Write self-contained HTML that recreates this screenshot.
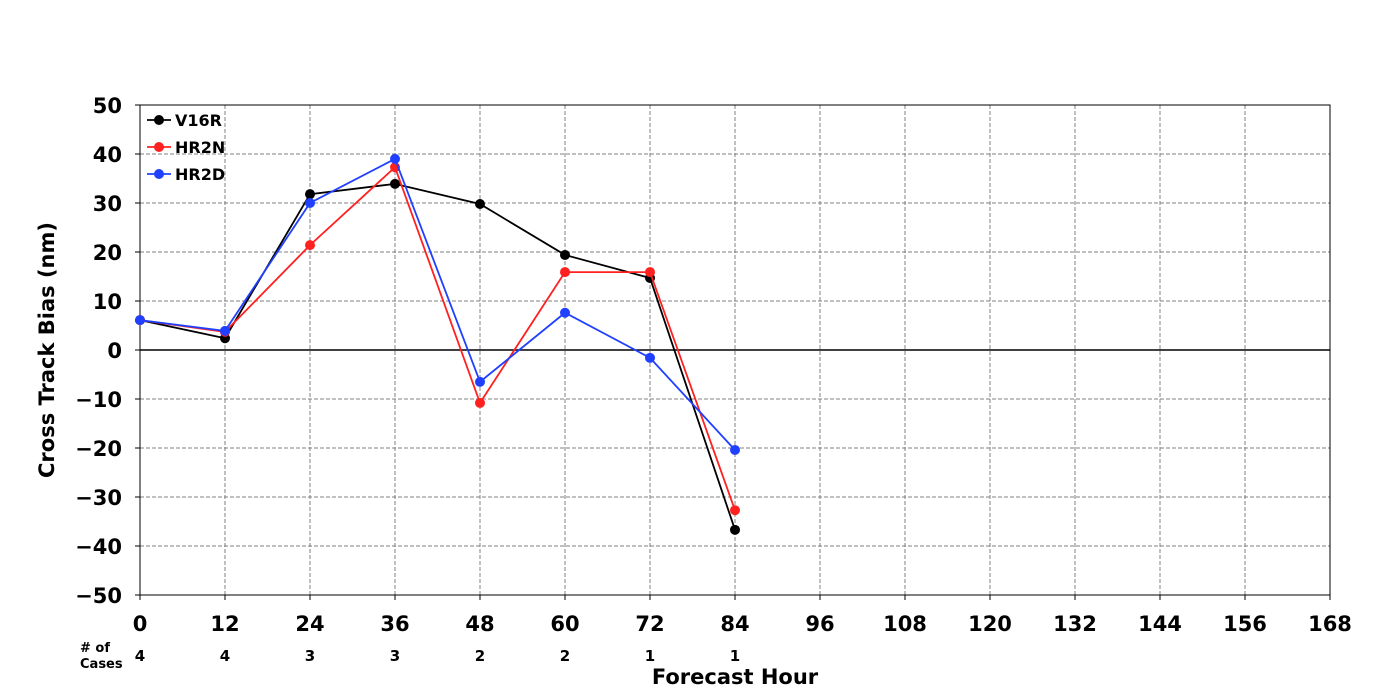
<!DOCTYPE html>
<html><head><meta charset="utf-8">
<style>
html,body{margin:0;padding:0;background:#fff;}
svg{display:block;font-family:"DejaVu Sans","Liberation Sans",sans-serif;font-weight:bold;}
</style></head>
<body>
<svg id="chart" width="1400" height="700" viewBox="0 0 1400 700" xmlns="http://www.w3.org/2000/svg">
<g id="grid"></g>
<g id="axes"></g>
<g id="series"></g>
<g id="legend"></g>
</svg>
<script>
const xTicks = [0,12,24,36,48,60,72,84,96,108,120,132,144,156,168];
const yTicks = [50,40,30,20,10,0,-10,-20,-30,-40,-50];
const hours = [0,12,24,36,48,60,72,84];
const cases = [4,4,3,3,2,2,1,1];
const seriesNames = ["V16R","HR2N","HR2D"];
const v16r = [6.1,2.4,31.8,33.9,29.8,19.4,14.7,-36.7];
const hr2n = [6.1,3.7,21.4,37.3,-10.8,15.9,15.9,-32.7];
const hr2d = [6.1,3.9,30.0,39.0,-6.5,7.6,-1.6,-20.4];

const NS="http://www.w3.org/2000/svg";
const L=140,R=1330,T=105,B=595;
const xs=h=>L+(h-0)/(168-0)*(R-L);
const ys=v=>T+(50-v)/100*(B-T);
function mk(tag,attrs,parent){const e=document.createElementNS(NS,tag);for(const k in attrs)e.setAttribute(k,attrs[k]);parent.appendChild(e);return e;}
const grid=document.getElementById('grid'),axes=document.getElementById('axes'),ser=document.getElementById('series'),leg=document.getElementById('legend');

xTicks.forEach(t=>{
  if(t>0&&t<168){const g=mk('line',{x1:xs(t),x2:xs(t),y1:T,y2:B,stroke:'#808080','stroke-width':1,'stroke-dasharray':'4,2'},grid);
  
  }
  const tx=mk('text',{x:xs(t),y:B+36,'text-anchor':'middle','font-size':21},axes);tx.textContent=t;
  
  
  mk('line',{x1:xs(t),x2:xs(t),y1:B,y2:B+5,stroke:'#000'},axes);
});
yTicks.forEach(t=>{
  if(t<50&&t>-50&&t!==0){const g=mk('line',{x1:L,x2:R,y1:ys(t),y2:ys(t),stroke:'#808080','stroke-width':1,'stroke-dasharray':'4,2'},grid);
  
  }
  const tx=mk('text',{x:L-18,y:ys(t)+8,'text-anchor':'end','font-size':21},axes);tx.textContent=String(t).replace('-','\u2212');
  
  
  mk('line',{x1:L-5,x2:L,y1:ys(t),y2:ys(t),stroke:'#000'},axes);
});
const z=mk('line',{x1:L,x2:R,y1:ys(0),y2:ys(0),stroke:'#000','stroke-width':1.6},axes);


const fr=mk('rect',{x:L,y:T,width:R-L,height:B-T,fill:'none',stroke:'#000','stroke-width':1},axes);


hours.forEach((h,i)=>{const tx=mk('text',{x:xs(h),y:661,'text-anchor':'middle','font-size':15},axes);tx.textContent=cases[i];
  
  });
const c1=mk('text',{x:80,y:652,'font-size':13},axes);c1.textContent='# of';


const c2=mk('text',{x:80,y:668,'font-size':13},axes);c2.textContent='Cases';


const xt=mk('text',{x:735,y:684,'text-anchor':'middle','font-size':21},axes);xt.textContent='Forecast Hour';


const yt=mk('text',{x:0,y:0,'text-anchor':'middle','font-size':21,transform:'translate(54,350) rotate(-90)'},axes);yt.textContent='Cross Track Bias (nm)';



const data=[v16r,hr2n,hr2d], colors=['#000000','#ff2020','#2040ff'];
data.forEach((vals,si)=>{
  const pts=hours.map((h,i)=>xs(h)+','+ys(vals[i])).join(' ');
  const pl=mk('polyline',{points:pts,fill:'none',stroke:colors[si],'stroke-width':1.8},ser);
  
  
  hours.forEach((h,i)=>{const c=mk('circle',{cx:xs(h),cy:ys(vals[i]),r:5,fill:colors[si]},ser);
    
    });
  const ly=120+si*27;
  const ll=mk('line',{x1:147,x2:171,y1:ly,y2:ly,stroke:colors[si],'stroke-width':1.8},leg);
  
  
  const lc=mk('circle',{cx:159,cy:ly,r:5,fill:colors[si]},leg);
  
  
  const lt=mk('text',{x:175,y:ly+6,'font-size':16},leg);lt.textContent=seriesNames[si];
  
  
});
</script>
</body></html>
